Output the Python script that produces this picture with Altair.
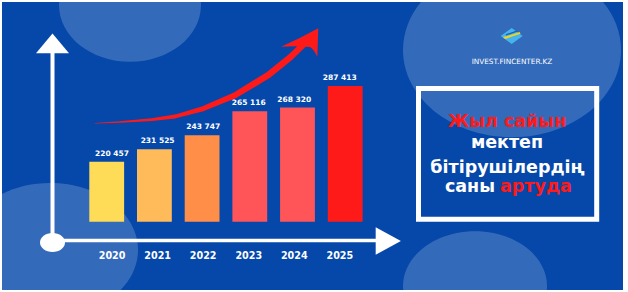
import altair as alt
import pandas as pd

# ---- data ----
years = ["2020", "2021", "2022", "2023", "2024", "2025"]
graduates = [220457, 231525, 243747, 265116, 268320, 287413]
value_labels = ["220 457", "231 525", "243 747", "265 116", "268 320", "287 413"]
bar_colors = ["#FFDC58", "#FFBA5A", "#FF8E48", "#FF5558", "#FF5558", "#FF1A1A"]

title_lines = ["Жыл сайын", "мектеп", "бітірушілердің"]
title_colors = ["#FF1A1A", "#FFFFFF", "#FFFFFF"]
title_last_white = "саны"
title_last_red = "артуда"
site_name = "INVEST.FINCENTER.KZ"

BASE = 167387  # visual baseline value of the bars

W, H = 621, 288
BLUE = "#0548AA"
RED = "#FF1A1A"
FONT = "DejaVu Sans"

# pixel-space scales (image coordinates)
PX = alt.Scale(domain=[2, 623], nice=False, zero=False)
PY = alt.Scale(domain=[290, 2], nice=False, zero=False)

def ellipse(r):
    return f"M-1,0A1,{r} 0 1,0 1,0A1,{r} 0 1,0 -1,0Z"

# ---- decorations ----
bg = pd.DataFrame({
    "x": [130, 50, 512, 475],
    "y": [5, 250, 50, 286],
    "s": [142 ** 2, 176 ** 2, 218 ** 2, 144 ** 2],
    "shape": [ellipse(0.8), ellipse(0.76), ellipse(0.8), ellipse(0.76)],
})
bg_layer = alt.Chart(bg).mark_point(filled=True, clip=True, color="white", opacity=0.19, strokeWidth=0).encode(
    x=alt.X("x:Q", scale=PX, axis=None),
    y=alt.Y("y:Q", scale=PY, axis=None),
    shape=alt.Shape("shape:N", scale=None),
    size=alt.Size("s:Q", scale=None),
)

axis_lines = pd.DataFrame({
    "x": [52.5, 52], "x2": [52.5, 378], "y": [45, 240.5], "y2": [242, 240.5], "w": [4, 3.3]
})
axis_layer = alt.Chart(axis_lines).mark_rule(color="white").encode(
    x=alt.X("x:Q", scale=PX, axis=None), x2="x2:Q",
    y=alt.Y("y:Q", scale=PY, axis=None), y2="y2:Q",
    strokeWidth=alt.StrokeWidth("w:Q", scale=None),
)

heads = pd.DataFrame({
    "x": [52.5, 388.3, 52.5],
    "y": [43.3, 241, 242.5],
    "s": [33 ** 2, 28 ** 2, 25 ** 2],
    "shape": ["M0,-0.6L1,0.6L-1,0.6Z", "M0.9,0L-0.9,-0.99L-0.9,0.99Z", ellipse(0.76)],
})
heads_layer = alt.Chart(heads).mark_point(filled=True, color="white", opacity=1, strokeWidth=0).encode(
    x=alt.X("x:Q", scale=PX, axis=None),
    y=alt.Y("y:Q", scale=PY, axis=None),
    shape=alt.Shape("shape:N", scale=None),
    size=alt.Size("s:Q", scale=None),
)

# ---- bars ----
bars_df = pd.DataFrame({"year": years, "value": graduates, "label": value_labels, "color": bar_colors})
XB = alt.X("year:O", scale=alt.Scale(domain=years, range=[87.3, 360.6], paddingInner=0.27, paddingOuter=0), axis=None)
YB = alt.Y("value:Q", scale=alt.Scale(domain=[BASE, 287413], range=[219.7, 84], zero=False, nice=False), axis=None)

bars = alt.Chart(bars_df).mark_bar().encode(
    x=XB, y=YB, y2=alt.datum(BASE),
    color=alt.Color("color:N", scale=None),
)
vlabels = alt.Chart(bars_df).mark_text(
    font=FONT, fontWeight="bold", fontSize=7.5, color="white", dy=-8, baseline="middle"
).encode(x=XB, y=YB, text="label:N")
ylabels = alt.Chart(bars_df).mark_text(
    font=FONT, fontWeight="bold", fontSize=9.6, color="white", baseline="middle"
).encode(x=XB, y=alt.value(254), text="year:N")

# ---- red swoosh arrow ----
swoosh = pd.DataFrame({
    "i": list(range(9)),
    "x": [95, 120, 151.7, 175, 201.7, 235, 268.3, 290, 303],
    "y": [123.3, 122, 119.7, 116.5, 109.2, 95.3, 75, 57.5, 45],
    "w": [0.5, 1.5, 2.7, 3.8, 5, 6, 6.5, 6.5, 6],
})
swoosh_layer = alt.Chart(swoosh).mark_trail(color=RED).encode(
    x=alt.X("x:Q", scale=PX, axis=None),
    y=alt.Y("y:Q", scale=PY, axis=None),
    size=alt.Size("w:Q", scale=None),
    order="i:Q",
)
arrowhead = pd.DataFrame({
    "x": [300], "y": [42.5], "s": [40 ** 2],
    "shape": ["M0.915,-0.71L0.865,0.71Q0.7,0.35 0.5,0.225Q-0.2,0.15 -0.95,0.21Q0,-0.2 0.915,-0.71Z"],
})
arrowhead_layer = alt.Chart(arrowhead).mark_point(filled=True, color=RED, opacity=1, strokeWidth=0).encode(
    x=alt.X("x:Q", scale=PX, axis=None),
    y=alt.Y("y:Q", scale=PY, axis=None),
    shape=alt.Shape("shape:N", scale=None),
    size=alt.Size("s:Q", scale=None),
)

# ---- right box ----
box = pd.DataFrame({"x": [418.5], "x2": [596.7], "y": [88.5], "y2": [219.2]})
box_layer = alt.Chart(box).mark_rect(fillOpacity=0, stroke="white", strokeWidth=5).encode(
    x=alt.X("x:Q", scale=PX, axis=None), x2="x2:Q",
    y=alt.Y("y:Q", scale=PY, axis=None), y2="y2:Q",
)

tfont = dict(font=FONT, fontWeight="bold", fontSize=17.5, baseline="alphabetic")
tl = pd.DataFrame({"t": title_lines, "x": [507, 507, 507.5], "y": [126.7, 148.3, 172.7], "c": title_colors})
title_center = alt.Chart(tl).mark_text(align="center", **tfont).encode(
    x=alt.X("x:Q", scale=PX, axis=None), y=alt.Y("y:Q", scale=PY, axis=None),
    text="t:N", color=alt.Color("c:N", scale=None),
)
t_white = alt.Chart(pd.DataFrame({"t": [title_last_white], "x": [495], "y": [191.7]})).mark_text(
    align="right", color="white", **tfont
).encode(x=alt.X("x:Q", scale=PX, axis=None), y=alt.Y("y:Q", scale=PY, axis=None), text="t:N")
t_red = alt.Chart(pd.DataFrame({"t": [title_last_red], "x": [500], "y": [191.7]})).mark_text(
    align="left", color=RED, **tfont
).encode(x=alt.X("x:Q", scale=PX, axis=None), y=alt.Y("y:Q", scale=PY, axis=None), text="t:N")

# ---- logo ----
logo = pd.DataFrame({
    "x": [511.7, 511.7, 511.7],
    "y": [36, 36, 36],
    "s": [22 ** 2, 22 ** 2, 22 ** 2],
    "shape": [
        "M-1,0L0,-0.72L1,0L0,0.72Z",
        "M-0.8,0.1Q0,-0.1 0.72,-0.36L0.8,-0.2Q0,0.05 -0.6,0.28Z",
        "M-0.55,-0.15Q0,-0.35 0.45,-0.5L0.55,-0.4Q0,-0.2 -0.5,-0.05Z",
    ],
    "c": ["#45B4EC", "#F2D31B", "#1F5FB0"],
})
logo_layer = alt.Chart(logo).mark_point(filled=True, opacity=1, strokeWidth=0).encode(
    x=alt.X("x:Q", scale=PX, axis=None),
    y=alt.Y("y:Q", scale=PY, axis=None),
    shape=alt.Shape("shape:N", scale=None),
    size=alt.Size("s:Q", scale=None),
    color=alt.Color("c:N", scale=None),
)
site = alt.Chart(pd.DataFrame({"t": [site_name], "x": [512], "y": [61.5]})).mark_text(
    font=FONT, fontSize=7.3, color="white", baseline="middle"
).encode(x=alt.X("x:Q", scale=PX, axis=None), y=alt.Y("y:Q", scale=PY, axis=None), text="t:N")

chart = alt.layer(
    bg_layer, axis_layer, heads_layer, bars, vlabels, ylabels,
    swoosh_layer, arrowhead_layer, box_layer, title_center, t_white, t_red,
    logo_layer, site,
).resolve_scale(x="independent", y="independent").properties(
    width=W, height=H,
    padding={"left": 2, "top": 2, "right": 5, "bottom": 2},
    autosize=alt.AutoSizeParams(type="none"),
    background="white",
).configure_view(fill=BLUE, stroke=None)

chart.save("out.html", embed_options={"renderer": "svg", "actions": False})
